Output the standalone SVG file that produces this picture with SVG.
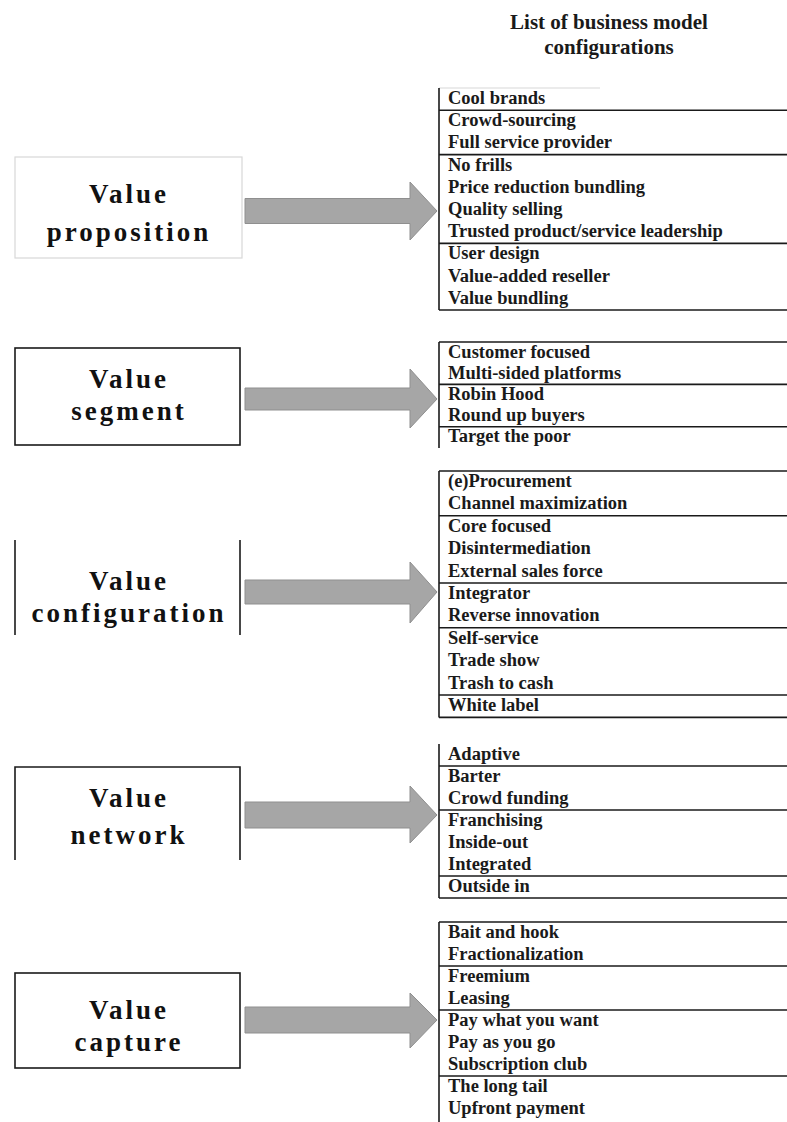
<svg xmlns="http://www.w3.org/2000/svg" width="787" height="1122" viewBox="0 0 787 1122">
<style>
.bg{fill:#ffffff}
.title{font-family:"Liberation Serif","Times New Roman",serif;font-weight:bold;font-size:21px;fill:#1a1a1a;text-anchor:middle}
.lbl{font-family:"Liberation Serif","Times New Roman",serif;font-weight:bold;font-size:27px;letter-spacing:3px;fill:#111;text-anchor:middle}
.item{font-family:"Liberation Serif","Times New Roman",serif;font-weight:bold;font-size:18.5px;fill:#1a1a1a}
.ln{stroke:#1a1a1a;stroke-width:1.6;fill:none}
.faint{stroke:#d8d8d8;stroke-width:1.2;fill:none}
.arrow{fill:#a6a6a6;stroke:#8f8f8f;stroke-width:1}
</style>
<rect class="bg" x="0" y="0" width="787" height="1122"/>

<g id="title">
<text class="title" x="609" y="29">List of business model</text>
<text class="title" x="609" y="54">configurations</text>
</g>

<!-- Left nodes -->
<g id="node-value-proposition">
<rect class="faint" x="15" y="157" width="227" height="101"/>
<text class="lbl" x="129" y="203">Value</text>
<text class="lbl" x="129" y="241">proposition</text>
</g>
<g id="node-value-segment">
<rect class="ln" x="15" y="348" width="225" height="97"/>
<text class="lbl" x="129" y="388">Value</text>
<text class="lbl" x="129" y="420">segment</text>
</g>
<g id="node-value-configuration">
<line class="ln" x1="15" y1="540" x2="15" y2="635"/>
<line class="ln" x1="240" y1="540" x2="240" y2="635"/>
<text class="lbl" x="129" y="590">Value</text>
<text class="lbl" x="129" y="622">configuration</text>
</g>
<g id="node-value-network">
<path class="ln" d="M15,860 V767 H240 V860"/>
<text class="lbl" x="129" y="807">Value</text>
<text class="lbl" x="129" y="844">network</text>
</g>
<g id="node-value-capture">
<rect class="ln" x="15" y="973" width="225" height="95"/>
<text class="lbl" x="129" y="1019">Value</text>
<text class="lbl" x="129" y="1051">capture</text>
</g>

<!-- Connectors -->
<g id="connectors">
<path class="arrow" d="M245,198.5 H410 V182 L437,211 L410,240 V223.5 H245 Z"/>
<path class="arrow" d="M245,388 H410 V369 L437,399 L410,428 V410 H245 Z"/>
<path class="arrow" d="M245,580 H410 V562 L437,592 L410,623 V604 H245 Z"/>
<path class="arrow" d="M245,802 H410 V786 L437,815 L410,843 V828 H245 Z"/>
<path class="arrow" d="M245,1007 H410 V993 L437,1020 L410,1048 V1033 H245 Z"/>
</g>

<!-- List 1 -->
<g id="list-value-proposition">
<line class="faint" x1="439" y1="88" x2="600" y2="88"/>
<line class="ln" x1="439" y1="88" x2="439" y2="310"/>
<line class="ln" x1="439" y1="110.2" x2="787" y2="110.2"/>
<line class="ln" x1="439" y1="154.6" x2="787" y2="154.6"/>
<line class="ln" x1="439" y1="243.4" x2="787" y2="243.4"/>
<line class="ln" x1="439" y1="310" x2="787" y2="310"/>
<text class="item" x="448" y="104">Cool brands</text>
<text class="item" x="448" y="126.2">Crowd-sourcing</text>
<text class="item" x="448" y="148.4">Full service provider</text>
<text class="item" x="448" y="170.6">No frills</text>
<text class="item" x="448" y="192.8">Price reduction bundling</text>
<text class="item" x="448" y="215">Quality selling</text>
<text class="item" x="448" y="237.2">Trusted product/service leadership</text>
<text class="item" x="448" y="259.4">User design</text>
<text class="item" x="448" y="281.6">Value-added reseller</text>
<text class="item" x="448" y="303.8">Value bundling</text>
</g>

<!-- List 2 -->
<g id="list-value-segment">
<line class="ln" x1="439" y1="342" x2="439" y2="448"/>
<line class="ln" x1="439" y1="342" x2="787" y2="342"/>
<line class="ln" x1="439" y1="384.4" x2="787" y2="384.4"/>
<line class="ln" x1="439" y1="426.8" x2="787" y2="426.8"/>
<text class="item" x="448" y="357.5">Customer focused</text>
<text class="item" x="448" y="378.7">Multi-sided platforms</text>
<text class="item" x="448" y="399.9">Robin Hood</text>
<text class="item" x="448" y="421.1">Round up buyers</text>
<text class="item" x="448" y="442.3">Target the poor</text>
</g>

<!-- List 3 -->
<g id="list-value-configuration">
<line class="ln" x1="439" y1="471" x2="439" y2="717.4"/>
<line class="ln" x1="439" y1="471" x2="787" y2="471"/>
<line class="ln" x1="439" y1="515.8" x2="787" y2="515.8"/>
<line class="ln" x1="439" y1="583" x2="787" y2="583"/>
<line class="ln" x1="439" y1="627.8" x2="787" y2="627.8"/>
<line class="ln" x1="439" y1="695" x2="787" y2="695"/>
<line class="ln" x1="439" y1="717.4" x2="787" y2="717.4"/>
<text class="item" x="448" y="487">(e)Procurement</text>
<text class="item" x="448" y="509.4">Channel maximization</text>
<text class="item" x="448" y="531.8">Core focused</text>
<text class="item" x="448" y="554.2">Disintermediation</text>
<text class="item" x="448" y="576.6">External sales force</text>
<text class="item" x="448" y="599">Integrator</text>
<text class="item" x="448" y="621.4">Reverse innovation</text>
<text class="item" x="448" y="643.8">Self-service</text>
<text class="item" x="448" y="666.2">Trade show</text>
<text class="item" x="448" y="688.6">Trash to cash</text>
<text class="item" x="448" y="711">White label</text>
</g>

<!-- List 4 -->
<g id="list-value-network">
<line class="ln" x1="439" y1="744" x2="439" y2="898"/>
<line class="ln" x1="439" y1="766" x2="787" y2="766"/>
<line class="ln" x1="439" y1="810" x2="787" y2="810"/>
<line class="ln" x1="439" y1="876" x2="787" y2="876"/>
<line class="ln" x1="439" y1="898" x2="787" y2="898"/>
<text class="item" x="448" y="760">Adaptive</text>
<text class="item" x="448" y="782">Barter</text>
<text class="item" x="448" y="804">Crowd funding</text>
<text class="item" x="448" y="826">Franchising</text>
<text class="item" x="448" y="848">Inside-out</text>
<text class="item" x="448" y="870">Integrated</text>
<text class="item" x="448" y="892">Outside in</text>
</g>

<!-- List 5 -->
<g id="list-value-capture">
<line class="ln" x1="439" y1="922" x2="439" y2="1122"/>
<line class="ln" x1="439" y1="922" x2="787" y2="922"/>
<line class="ln" x1="439" y1="966" x2="787" y2="966"/>
<line class="ln" x1="439" y1="1010" x2="787" y2="1010"/>
<line class="ln" x1="439" y1="1076" x2="787" y2="1076"/>
<text class="item" x="448" y="938">Bait and hook</text>
<text class="item" x="448" y="960">Fractionalization</text>
<text class="item" x="448" y="982">Freemium</text>
<text class="item" x="448" y="1004">Leasing</text>
<text class="item" x="448" y="1026">Pay what you want</text>
<text class="item" x="448" y="1048">Pay as you go</text>
<text class="item" x="448" y="1070">Subscription club</text>
<text class="item" x="448" y="1092">The long tail</text>
<text class="item" x="448" y="1114">Upfront payment</text>
</g>
</svg>
